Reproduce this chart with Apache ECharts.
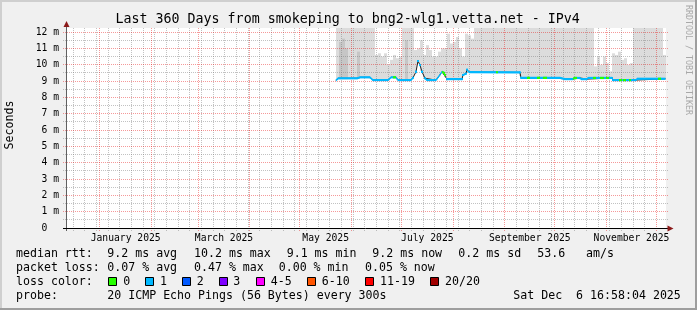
<!DOCTYPE html>
<html><head><meta charset="utf-8">
<script src="https://cdn.jsdelivr.net/npm/echarts@6/dist/echarts.min.js"></script>
<style>html,body{margin:0;padding:0;background:#f0f0f0}#c{width:697px;height:310px}</style>
</head><body><div id="c"></div>
<script>
// ---- x in days since 2024-12-01 00:00 ----
const X_MIN = 10.707, X_MAX = 370.707;
const Y_MIN = 0, Y_MAX = 12.25;
const monthStarts = [31, 62, 90, 121, 151, 182, 212, 243, 274, 304, 335, 365];
const monthLabelDays = [46.5, 105.5, 166.5, 227.5, 289, 350];
const monthLabels = ['January 2025', 'March 2025', 'May 2025', 'July 2025', 'September 2025', 'November 2025'];
const firstMonday = 15, weekStep = 7;
const yMajor = [1,2,3,4,5,6,7,8,9,10,11,12];
const yMinor = [0.5,1.5,2.5,3.5,4.5,5.5,6.5,7.5,8.5,9.5,10.5,11.5];
const yTickLabels = ['0  ','1 m','2 m','3 m','4 m','5 m','6 m','7 m','8 m','9 m','10 m','11 m','12 m'];

// median rtt (ms) breakpoints
const medianDay = [172.7,173.9,185.3,187.1,193.1,194.9,203.9,205.7,208.7,209.9,217.7,218.9,220.7,221.9,223.1,224.3,226.1,227.3,232.7,234.5,236.3,237.5,239.3,248.3,248.9,250.7,251.3,252.5,283.1,283.7,307.1,310.1,314.9,315.5,319.1,319.7,323.3,323.9,338.3,338.9,352.7,353.3,370.4];
const medianMs  = [9.04,9.17,9.17,9.23,9.23,9.06,9.06,9.23,9.23,9.06,9.06,9.2,9.57,10.23,9.98,9.57,9.17,9.06,9.06,9.3,9.57,9.5,9.12,9.12,9.37,9.45,9.7,9.55,9.53,9.2,9.19,9.12,9.12,9.19,9.19,9.12,9.12,9.19,9.19,9.06,9.06,9.14,9.14];

// periods with 0 packet loss (green); rest is loss 1 (blue)
const zeroLossStart = [206.9,236.3,268.7,287.3,293.3,296.9,314.9,326.9,331.1,334.7,342.5,344.9,348.5,365.9];
const zeroLossEnd   = [208.7,238.1,269.9,289.1,295.1,299.3,317.3,328.7,333.5,336.5,344.3,346.7,349.7,367.7];

// smoke (ping spread) columns
const smokeStartDay = 172.707, smokeStep = 1.8;
const smokeTop = [
 12.3,12.3,12.3,12.3,12.3,12.3,12.3,12.3,12.3,12.3,12.3,12.3,12.3,
 10.6,10.7,10.5,10.7,10.0,10.3,10.6,10.4,10.5,
 12.3,12.3,12.3,12.3,
 10.9,11.0,11.5,10.6,11.2,10.9,10.5,10.5,10.8,11.0,11.0,11.9,11.3,11.4,11.7,11.0,10.5,11.9,11.8,11.6,
 12.3,12.3,12.3,12.3,12.3,12.3,12.3,12.3,12.3,12.3,12.3,12.3,12.3,12.3,12.3,12.3,12.3,12.3,12.3,12.3,
 12.3,12.3,12.3,12.3,12.3,12.3,12.3,12.3,12.3,12.3,12.3,12.3,12.3,12.3,12.3,12.3,12.3,12.3,12.3,12.3,
 9.9,10.5,10.0,10.5,10.1,9.6,10.7,10.6,10.8,10.3,10.4,10.0,10.1,
 12.3,12.3,12.3,12.3,12.3,12.3,12.3,12.3,12.3,12.3,
 10.6];
const smokeDark = [
 null,11.4,11.6,11.0,null,null,null,10.8,null,null,null,null,null,
 null,null,null,null,null,null,null,null,null,
 null,11.5,null,null,
 null,null,null,null,null,null,null,null,null,null,null,null,null,null,null,null,null,null,null,null,
 null,null,null,null,null,null,null,null,null,null,null,null,null,null,null,null,null,null,null,null,
 null,null,null,null,null,null,null,null,null,null,null,null,null,null,null,null,null,null,null,null,
 null,null,null,null,null,null,null,null,null,null,null,null,null,
 null,null,null,null,null,null,null,null,null,null,
 null];

const FONT = 'DejaVu Sans Mono';
const GRID = {left: 66, top: 28, width: 600, height: 200};

function medianAt(d) {
  if (d <= medianDay[0]) return medianMs[0];
  for (let i = 1; i < medianDay.length; i++) {
    if (d <= medianDay[i]) {
      const t = (d - medianDay[i-1]) / (medianDay[i] - medianDay[i-1]);
      return medianMs[i-1] + t * (medianMs[i] - medianMs[i-1]);
    }
  }
  return medianMs[medianMs.length - 1];
}

// build data
const weekly = [];
for (let d = firstMonday; d <= X_MAX; d += weekStep) if (monthStarts.indexOf(d) < 0) weekly.push([d, 0]);
const smokeData = smokeTop.map((h, i) => {
  const s = smokeStartDay + i * smokeStep;
  return [s, s + smokeStep, medianAt(s + smokeStep / 2) - 0.05, h];
});
const smokeDarkData = [];
smokeDark.forEach((h, i) => {
  if (h == null) return;
  const s = smokeStartDay + i * smokeStep;
  smokeDarkData.push([s, s + smokeStep, medianAt(s + smokeStep / 2) - 0.05, h]);
});
const medianLine = medianDay.map((d, i) => [d, medianMs[i]]);
const blueSegs = [];
for (let i = 0; i + 1 < medianDay.length; i++) blueSegs.push([medianDay[i], medianMs[i], medianDay[i+1], medianMs[i+1]]);
const greenSegs = [];
zeroLossStart.forEach((s, k) => {
  const e = zeroLossEnd[k];
  const pts = [s];
  medianDay.forEach(d => { if (d > s && d < e) pts.push(d); });
  pts.push(e);
  for (let j = 0; j + 1 < pts.length; j++) greenSegs.push([pts[j], medianAt(pts[j]), pts[j+1], medianAt(pts[j+1])]);
});

function clipR(r, cs) {
  return echarts.graphic.clipRectByRect(r, {x: cs.x, y: cs.y, width: cs.width, height: cs.height});
}
function smokeRender(color) {
  return (params, api) => {
    const cs = params.coordSys;
    const p0 = api.coord([api.value(0), api.value(3)]);
    const p1 = api.coord([api.value(1), api.value(2)]);
    const x0 = Math.round(p0[0]), x1 = Math.round(p1[0]);
    const r = clipR({x: x0, y: p0[1], width: x1 - x0, height: p1[1] - p0[1]}, cs);
    if (!r) return null;
    return {type: 'rect', shape: r, style: {fill: color}};
  };
}
function vGrid(color) {
  return (params, api) => {
    const cs = params.coordSys;
    const x = Math.floor(api.coord([api.value(0), 0])[0]) + 0.5;
    return {type: 'line', shape: {x1: x, y1: cs.y, x2: x, y2: cs.y + cs.height + 3},
      style: {stroke: color, lineWidth: 1, lineDash: [1, 1]}};
  };
}
function hGrid(color) {
  return (params, api) => {
    const cs = params.coordSys;
    const y = Math.floor(api.coord([X_MIN, api.value(1)])[1]) + 0.5;
    return {type: 'line', shape: {x1: cs.x - 3, y1: y, x2: cs.x + cs.width + 2, y2: y},
      style: {stroke: color, lineWidth: 1, lineDash: [1, 1]}};
  };
}
function bandRender(color) {
  return (params, api) => {
    const p0 = api.coord([api.value(0), api.value(1)]);
    const p1 = api.coord([api.value(2), api.value(3)]);
    const dx = Math.max(p1[0] - p0[0], 0.01), dy = p1[1] - p0[1];
    if (Math.abs(dy) / dx > 1.6) {
      return {type: 'group', children: [
        {type: 'rect', shape: {x: p0[0] - 1, y: p0[1] - 1, width: 2, height: 2}, style: {fill: color}},
        {type: 'rect', shape: {x: p1[0] - 1, y: p1[1] - 1, width: 2, height: 2}, style: {fill: color}}
      ]};
    }
    return {type: 'polygon', shape: {points: [[p0[0], p0[1] - 1.1], [p1[0], p1[1] - 1.1], [p1[0], p1[1] + 1.1], [p0[0], p0[1] + 1.1]]},
      style: {fill: color}};
  };
}
function labelRender(params, api) {
  const cs = params.coordSys;
  const p = api.coord([api.value(0), 0]);
  return {type: 'text', x: p[0], y: cs.y + cs.height + 10,
    style: {text: monthLabels[params.dataIndex], fontSize: 9.7, fontFamily: FONT, fill: '#000', align: 'center', verticalAlign: 'middle'}};
}

const lossColors = ['#26ff00','#00b8ff','#0059ff','#7e00ff','#ff00ff','#ff5500','#ff0000','#a10000'];
const lossNames = ['0','1','2','3','4-5','6-10','11-19','20/20'];
const lossBoxX = [108.5,145.5,182.5,219.5,256.5,307.5,365.5,430.5];
const lossTextX = [123.3,160,196.7,233.3,270.7,321.7,380,445];

function txt(x, y, s, extra) {
  return Object.assign({type: 'text', x: x, y: y, z: 100,
    style: Object.assign({text: s, fontSize: 11.6, fontFamily: FONT, fill: '#000', align: 'left', verticalAlign: 'middle'}, extra || {})});
}
const graphics = [
  {type: 'rect', shape: {x: 0, y: 0, width: 697, height: 2}, style: {fill: '#cfcfcf'}, z: 100},
  {type: 'rect', shape: {x: 0, y: 0, width: 2, height: 310}, style: {fill: '#cfcfcf'}, z: 100},
  {type: 'rect', shape: {x: 0, y: 308, width: 697, height: 2}, style: {fill: '#9e9e9e'}, z: 100},
  {type: 'rect', shape: {x: 695, y: 0, width: 2, height: 310}, style: {fill: '#9e9e9e'}, z: 100},
  txt(347.7, 19.5, 'Last 360 Days from smokeping to bng2-wlg1.vetta.net - IPv4', {fontSize: 13.3, align: 'center'}),
  {type: 'text', x: 10, y: 125, rotation: Math.PI / 2, z: 100,
    style: {text: 'Seconds', fontSize: 11.6, fontFamily: FONT, fill: '#000', align: 'center', verticalAlign: 'middle'}},
  {type: 'text', x: 688, y: 5, rotation: -Math.PI / 2, z: 100,
    style: {text: 'RRDTOOL / TOBI OETIKER', fontSize: 8.3, fontFamily: FONT, fill: '#a8a8a8', align: 'left', verticalAlign: 'middle'}},
  // axes
  {type: 'line', shape: {x1: 66.5, y1: 231, x2: 66.5, y2: 25}, style: {stroke: '#606060', lineWidth: 1}, z: 50},
  {type: 'line', shape: {x1: 63, y1: 228.5, x2: 668, y2: 228.5}, style: {stroke: '#000', lineWidth: 1}, z: 50},
  {type: 'polygon', shape: {points: [[66.5, 21], [63.5, 27], [69.5, 27]]}, style: {fill: '#8b1a1a'}, z: 51},
  {type: 'polygon', shape: {points: [[673.5, 228.5], [667.5, 225.5], [667.5, 231.5]]}, style: {fill: '#8b1a1a'}, z: 51},
  // legend rows
  txt(16, 254, 'median rtt:'),
  txt(107.3, 254, '9.2 ms avg'), txt(194, 254, '10.2 ms max'), txt(286.7, 254, '9.1 ms min'),
  txt(372.3, 254, '9.2 ms now'), txt(458.3, 254, '0.2 ms sd'), txt(537.3, 254, '53.6'), txt(586, 254, 'am/s'),
  txt(16, 268, 'packet loss:'),
  txt(107.3, 268, '0.07 % avg'), txt(194, 268, '0.47 % max'), txt(278.7, 268, '0.00 % min'), txt(365, 268, '0.05 % now'),
  txt(16, 282, 'loss color:'),
  txt(16, 296, 'probe:'),
  txt(107.3, 296, '20 ICMP Echo Pings (56 Bytes) every 300s'),
  txt(513.3, 296, 'Sat Dec  6 16:58:04 2025')
];
lossColors.forEach((c, i) => {
  graphics.push({type: 'rect', shape: {x: lossBoxX[i], y: 277.5, width: 8, height: 8}, style: {fill: c, stroke: '#000', lineWidth: 1}, z: 100});
  graphics.push(txt(lossTextX[i], 282, lossNames[i]));
});

const chart = echarts.init(document.getElementById('c'), null, {renderer: 'canvas', width: 697, height: 310});
chart.setOption({
  animation: false,
  backgroundColor: '#f0f0f0',
  grid: Object.assign({show: true, backgroundColor: '#ffffff', borderWidth: 0}, GRID),
  xAxis: {type: 'value', min: X_MIN, max: X_MAX, axisLine: {show: false}, axisTick: {show: false},
    axisLabel: {show: false}, splitLine: {show: false}},
  yAxis: {type: 'value', min: Y_MIN, max: Y_MAX, interval: 1, axisLine: {show: false}, axisTick: {show: false},
    splitLine: {show: false},
    axisLabel: {margin: 7, showMaxLabel: false, fontSize: 9.7, fontFamily: FONT, color: '#000',
      formatter: v => (Number.isInteger(v) && yTickLabels[v] !== undefined) ? yTickLabels[v] : ''}},
  series: [
    {type: 'custom', name: 'smoke', renderItem: smokeRender('#dcdcdc'), data: smokeData, z: 1, silent: true,
      encode: {x: [0, 1], y: [2, 3]}, clip: false},
    {type: 'custom', name: 'smokeDark', renderItem: smokeRender('#c6c6c6'), data: smokeDarkData, z: 1, silent: true,
      encode: {x: [0, 1], y: [2, 3]}, clip: false},
    {type: 'custom', name: 'vminor', renderItem: vGrid('rgba(120,120,120,0.45)'), data: weekly, z: 2, silent: true, encode: {x: 0, y: 1}, clip: false},
    {type: 'custom', name: 'hminor', renderItem: hGrid('rgba(120,120,120,0.45)'), data: yMinor.map(v => [X_MIN, v]), z: 2, silent: true, encode: {x: 0, y: 1}, clip: false},
    {type: 'custom', name: 'vmajor', renderItem: vGrid('rgba(230,0,0,0.4)'), data: monthStarts.map(d => [d, 0]), z: 2, silent: true, encode: {x: 0, y: 1}, clip: false},
    {type: 'custom', name: 'hmajor', renderItem: hGrid('rgba(230,0,0,0.4)'), data: yMajor.map(v => [X_MIN, v]), z: 2, silent: true, encode: {x: 0, y: 1}, clip: false},
    {type: 'custom', name: 'months', renderItem: labelRender, data: monthLabelDays.map(d => [d, 0]), z: 3, silent: true, encode: {x: 0, y: 1}, clip: false},
    {type: 'line', name: 'median', data: medianLine, showSymbol: false, symbol: 'none', z: 4, silent: true,
      lineStyle: {color: '#202020', width: 1}},
    {type: 'custom', name: 'loss1', renderItem: bandRender('#00b8ff'), data: blueSegs, z: 5, silent: true, encode: {x: [0, 2], y: [1, 3]}, clip: false},
    {type: 'custom', name: 'loss0', renderItem: bandRender('#26ff00'), data: greenSegs, z: 6, silent: true, encode: {x: [0, 2], y: [1, 3]}, clip: false}
  ],
  graphic: graphics
});
</script></body></html>
